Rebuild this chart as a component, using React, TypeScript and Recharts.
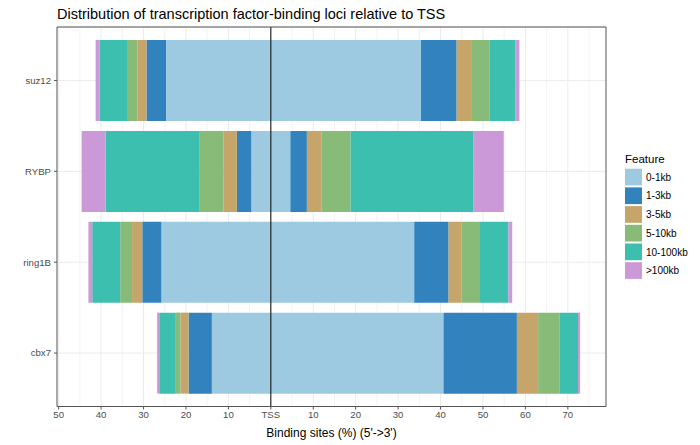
import React from 'react';
import { BarChart, Bar, XAxis, YAxis, CartesianGrid, ReferenceLine, Label } from 'recharts';

const categories = ['suz12', 'RYBP', 'ring1B', 'cbx7'];
const features = ['0-1kb', '1-3kb', '3-5kb', '5-10kb', '10-100kb', '>100kb'];
const featureColors = ['#9ECAE1', '#3182BD', '#C6A56B', '#88BB77', '#3CBFAF', '#CC99D8'];

// upstream (5') percentages per feature, in category order
const up0to1kb = [24.7, 4.6, 25.8, 13.9];
const up1to3kb = [4.6, 3.4, 4.5, 5.5];
const up3to5kb = [2.1, 3.2, 2.4, 1.9];
const up5to10kb = [2.5, 5.7, 2.8, 1.1];
const up10to100kb = [6.5, 22.0, 6.6, 3.9];
const upOver100kb = [0.9, 5.7, 0.9, 0.5];

// downstream (3') percentages per feature, in category order
const down0to1kb = [35.4, 4.6, 33.8, 40.7];
const down1to3kb = [8.4, 3.9, 8.1, 17.3];
const down3to5kb = [3.6, 3.5, 3.1, 5.0];
const down5to10kb = [4.2, 6.8, 4.3, 5.1];
const down10to100kb = [6.1, 29.0, 6.7, 4.3];
const downOver100kb = [0.9, 7.1, 0.9, 0.5];

const xTicks = [-50, -40, -30, -20, -10, 0, 10, 20, 30, 40, 50, 60, 70];
const xMinorGrid = [-45, -35, -25, -15, -5, 5, 15, 25, 35, 45, 55, 65, 75];
const xDomain: [number, number] = [-50.4, 79.0];

const upstream = [up0to1kb, up1to3kb, up3to5kb, up5to10kb, up10to100kb, upOver100kb];
const downstream = [down0to1kb, down1to3kb, down3to5kb, down5to10kb, down10to100kb, downOver100kb];

const data = categories.map((name, i) => {
  const row: Record<string, string | number> = { name };
  features.forEach((_, j) => {
    row[`up${j}`] = -upstream[j][i];
    row[`down${j}`] = downstream[j][i];
  });
  return row;
});

const FONT = '"Liberation Sans", Arial, sans-serif';
const AXIS = '#555555';

export default function App() {
  return (
    <div style={{ position: 'absolute', left: 0, top: 0, width: 700, height: 445, background: '#fff', fontFamily: FONT }}>
      <BarChart
        width={700}
        height={445}
        data={data}
        layout="vertical"
        stackOffset="sign"
        margin={{ top: 26, right: 93, bottom: 0, left: 0 }}
      >
        <CartesianGrid stroke="#F3F3F3" horizontal={false} verticalValues={xMinorGrid} />
        <CartesianGrid stroke="#EBEBEB" verticalValues={xTicks} />
        <XAxis
          type="number"
          domain={xDomain}
          ticks={xTicks}
          interval={0}
          allowDataOverflow
          tickFormatter={(v: number) => (v === 0 ? 'TSS' : String(Math.abs(v)))}
          tick={{ fill: '#4D4D4D', fontSize: 9.6, fontFamily: FONT }}
          tickSize={3}
          tickMargin={2}
          axisLine={{ stroke: AXIS }}
          tickLine={{ stroke: AXIS }}
          height={38.5}
        >
          <Label
            value="Binding sites (%) (5'->3')"
            position="insideBottom"
            offset={8}
            style={{ fill: '#000', fontSize: 12, fontFamily: FONT }}
          />
        </XAxis>
        <XAxis
          xAxisId="top"
          orientation="top"
          type="number"
          domain={xDomain}
          ticks={xTicks}
          allowDataOverflow
          tick={false}
          tickLine={false}
          height={1}
          axisLine={{ stroke: AXIS }}
        />
        <YAxis
          type="category"
          dataKey="name"
          width={57}
          padding={{ top: 8, bottom: 8 }}
          tick={{ fill: '#4D4D4D', fontSize: 9.6, fontFamily: FONT }}
          tickSize={3}
          tickMargin={3}
          axisLine={{ stroke: AXIS }}
          tickLine={{ stroke: AXIS }}
        />
        <YAxis
          yAxisId="right"
          orientation="right"
          type="category"
          dataKey="name"
          width={1}
          tick={false}
          tickLine={false}
          axisLine={{ stroke: AXIS }}
        />
        {features.flatMap((f, j) => [
          <Bar key={`up${j}`} dataKey={`up${j}`} name={f} stackId="s" fill={featureColors[j]} barSize={81} isAnimationActive={false} />,
          <Bar key={`down${j}`} dataKey={`down${j}`} name={f} stackId="s" fill={featureColors[j]} barSize={81} isAnimationActive={false} />,
        ])}
        <ReferenceLine x={0} stroke="#000" strokeWidth={1} />
      </BarChart>
      <svg width={700} height={445} style={{ position: 'absolute', left: 0, top: 0, pointerEvents: 'none' }}>
        <text x={57} y={18.5} fontSize={14.5} fill="#000" fontFamily={FONT}>
          Distribution of transcription factor-binding loci relative to TSS
        </text>
        <text x={625} y={163} fontSize={11.5} fill="#000" fontFamily={FONT}>
          Feature
        </text>
        {features.map((f, j) => (
          <g key={f}>
            <rect x={625} y={168.7 + j * 18.7} width={17} height={16.7} fill={featureColors[j]} />
            <text x={646} y={168.7 + j * 18.7 + 12} fontSize={10} fill="#000" fontFamily={FONT}>
              {f}
            </text>
          </g>
        ))}
      </svg>
    </div>
  );
}
